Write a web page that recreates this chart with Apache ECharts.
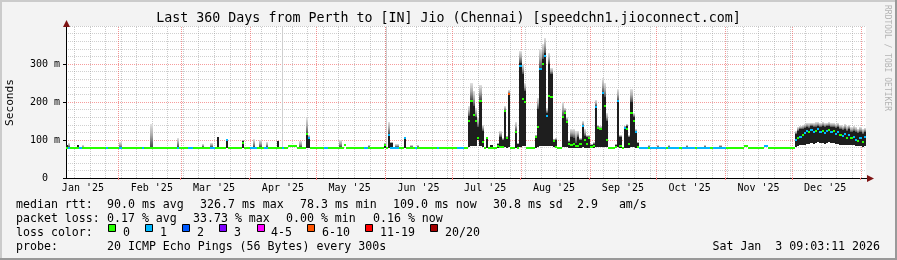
<!DOCTYPE html>
<html><head><meta charset="utf-8">
<script src="https://cdn.jsdelivr.net/npm/echarts@6/dist/echarts.min.js"></script>
<style>html,body{margin:0;padding:0;background:#f3f3f3}#c{width:897px;height:260px}</style>
</head><body><div id="c"></div>
<script>
// ---------- data (one value per day, day 0 = 360 days before the end time) ----------
const END = Date.UTC(2026, 0, 3, 9, 3, 11);
const DAY = 86400000;
const START = END - 360 * DAY;

const monthLabels = ["Jan '25","Feb '25","Mar '25","Apr '25","May '25","Jun '25","Jul '25","Aug '25","Sep '25","Oct '25","Nov '25","Dec '25"];

// median rtt (ms) per day
const median = [
 79,80,78,78,78,79,78,78,78,78, 78,78,78,78,78,78,78,78,78,78, 78,78,78,78,79,78,78,78,78,78,
 78,78,78,78,78,80,80,80,80,80, 80,80,80,80,80,80,80,80,80,80, 80,80,80,80,80,80,80,80,80,80,
 80,80,80,80,80,80,80,80,80,80, 80,80,99,80,80,80,80,80,80,93, 80,80,80,80,80,80,80,80,80,80,
 80,80,80,80,80,80,80,80,80,80, 83,83,83,83,80,80,80,80,115,105, 80,80,80,80,80,80,80,80,80,80,
 80,80,80,80,80,86,80,80,80,80, 80,80,80,80,80,80,80,80,80,80, 80,80,80,88,80,114,80,80,80,80,
 80,80,105,80,80,80,80,80,80,80, 80,80,80,80,80,80,80,80,80,80, 80,80,80,80,80,80,80,80,80,80,
 80,150,203,165,150,105,203,95,80,104, 80,80,80,80,85,82,82,176,106,222, 80,80,122,80,296,209,200,80,80,80,
 80,108,134,288,300,322,164,215,212,98, 82,80,80,160,172,148,90,88,90,84, 85,90,136,100,90,105,82,84,188,132,
 128,224,190,100,80,80,80,82,202,85, 80,132,130,90,170,151,121,82,80,80, 80,80,80,80,80,80,80,80,80,80,
 80,80,80,80,80,80,80,80,80,80, 80,80,80,80,80,80,80,80,80,80, 80,80,80,80,80,80,80,80,80,80,
 80,80,80,80,80,83,83,80,80,80, 80,80,80,80,83,83,80,80,80,80, 80,80,80,80,80,80,80,80,99,105,
 108,112,118,125,122,126,120,124,128,122, 125,118,124,127,120,123,117,121,112,110, 115,106,112,104,108,100,98,104,96,109
];

// loss class per day (index into lossLabels / lossColors)
const loss = [
 0,1,0,0,0,0,1,0,0,0, 0,0,0,0,0,0,0,0,1,0, 0,0,0,0,1,0,0,0,0,0,
 0,0,0,0,1,0,0,0,0,0, 0,0,0,0,0,0,0,0,0,0, 1,0,0,0,0,1,1,0,0,0,
 0,0,0,0,0,1,1,0,0,0, 0,0,1,0,0,0,0,0,0,0, 0,0,0,1,1,1,0,0,0,1,
 1,0,0,0,0,0,0,1,0,0, 0,0,0,0,0,0,0,0,0,1, 0,0,0,0,0,0,1,1,0,0,
 0,0,0,0,0,0,0,0,0,0, 0,0,0,0,1,1,0,0,0,0, 0,0,0,0,0,1,1,1,1,1,
 0,0,1,0,0,0,0,1,0,0, 0,0,0,0,0,0,0,1,0,0, 0,0,0,0,0,0,1,1,1,0,
 0,0,0,0,0,0,0,0,0,0, 0,0,0,0,0,0,0,0,0,5, 0,0,0,0,1,0,0,0,0,0,
 0,0,0,1,0,1,1,0,0,0, 0,0,0,0,0,0,0,0,0,0, 0,0,1,0,0,0,0,0,1,0,
 0,1,0,0,0,0,0,0,1,0, 0,1,0,0,0,0,1,0,1,1, 1,1,0,1,1,1,1,1,1,1,
 0,1,1,1,1,1,0,1,1,1, 1,1,1,0,1,1,1,1,1,1, 0,1,1,1,1,1,1,0,0,0,
 0,0,0,0,0,0,0,0,0,0, 0,0,0,0,1,1,0,0,0,0, 0,0,0,0,0,0,0,0,1,0,
 1,0,1,1,0,1,1,0,1,1, 0,1,1,0,1,0,1,1,0,1, 1,0,1,0,1,1,0,1,0,1
];

// smoke (ping spread) per day where visible: day, dense-core low, dense-core high, outer max (ms)
const smokeDay = [0,1,5,7,24,38,50,61,65,68,72,79,84,87,90,95,97,105,108,109,123,136,143,144,145,146,148,149,152,155,158,
 181,182,183,184,185,186,187,189,191,194,195,196,197,198,199,202,203,204,205,206,211,212,213,214,215,216,217,218,219,220,
 223,224,225,226,227,228,229,230,231,232,233,234,235,236,237,238,239,240,241,242,243,247,248,249,251,252,253,254,255,256,257,
 262,266,271,279,287,294,
 328,329,330,331,332,333,334,335,336,337,338,339,340,341,342,343,344,345,346,347,348,349,350,351,352,353,354,355,356,357,358,359];
const smokeLo = [78,79,78,78,78,80,80,80,80,80,80,80,80,80,80,80,80,80,80,80,80,80,80,80,80,80,80,80,80,80,80,
 82,85,85,85,99,85,82,80,80,80,80,80,82,80,82,80,80,82,85,85,80,82,85,85,85,85,85,85,82,80,
 82,82,82,80,80,80,80,80,80,82,80,80,80,80,80,82,82,82,82,82,82,80,82,80,80,80,80,82,82,80,80,
 80,80,80,80,80,80,
 82,84,86,88,88,90,90,92,90,92,94,92,92,90,92,94,92,92,90,90,88,88,88,86,88,86,86,84,84,84,82,84];
const smokeHi = [86,82,86,79,80,82,81,81,81,107,100,97,81,81,81,97,81,81,117,106,81,81,90,81,117,92,81,81,107,81,81,
 164,206,190,160,134,206,125,106,86,90,108,100,177,107,221,123,90,303,273,230,110,182,290,313,330,170,300,273,99,100,
 164,173,151,95,108,105,92,108,100,138,110,107,108,86,90,190,134,130,225,212,151,88,203,108,134,138,108,199,160,121,92,
 81,81,81,81,81,81,
 117,125,128,130,132,134,132,136,133,135,137,134,136,133,136,138,134,135,132,133,128,126,130,124,128,122,125,120,118,122,115,120];
const smokeMax = [88,91,87,88,94,141,104,89,91,108,102,99,102,100,94,98,400,97,159,112,99,86,92,400,147,95,89,89,108,88,88,
 190,251,230,185,160,245,140,108,88,92,125,105,190,110,232,147,92,334,300,250,112,210,340,352,369,185,330,290,102,104,
 199,185,160,100,130,130,125,125,105,150,128,112,112,90,95,205,140,138,262,250,170,90,234,112,138,142,112,234,172,128,96,
 86,88,86,87,88,86,
 125,135,138,140,142,145,144,146,145,147,148,145,147,144,146,148,146,146,143,144,140,138,142,136,140,135,137,133,130,134,128,132];

const lossLabels = ["0","1","2","3","4-5","6-10","11-19","20/20"];
const lossColors = ["#26ff00","#00b8ff","#0059ff","#7e00ff","#ff00ff","#ff5500","#ff0000","#a10000"];
const legendBoxX = [108,145,182,219,257,307,365,430];
const legendTextX = [123,160,197,234,271,322,380,445];

const titleText = "Last 360 Days from Perth to [IN] Jio (Chennai) [speedchn1.jioconnect.com]";
const statRows = [
 {y:204.5, items:[[16,"median rtt:"],[107,"90.0 ms avg"],[200,"326.7 ms max"],[300,"78.3 ms min"],[393,"109.0 ms now"],[493,"30.8 ms sd"],[577,"2.9   am/s"]]},
 {y:218.8, items:[[16,"packet loss:"],[107,"0.17 % avg"],[193,"33.73 % max"],[286,"0.00 % min"],[373,"0.16 % now"]]},
 {y:232.5, items:[[16,"loss color:"]]},
 {y:246.5, items:[[16,"probe:"],[107,"20 ICMP Echo Pings (56 Bytes) every 300s"]]}
];
const stampText = "Sat Jan  3 09:03:11 2026";

// ---------- axis positions (dates -> day offsets) ----------
const dayOf = (y, m, d) => (Date.UTC(y, m, d) - START) / DAY;
const monthLabelDays = monthLabels.map((_, i) => dayOf(2025, i, 16));
const monthLineDays = [];
for (let m = 1; m <= 12; m++) monthLineDays.push(dayOf(2025, m, 1));
const weekLineDays = [];
for (let d = dayOf(2025, 0, 12); d < 360; d += 7) weekLineDays.push(d);

const FONT = '"DejaVu Sans Mono", monospace';
const chart = echarts.init(document.getElementById('c'), null, {renderer: 'canvas', width: 897, height: 260});

function vLineSeries(days, color) {
  return {
    type: 'custom', z: 1, silent: true, clip: true,
    data: days.map(d => [d]),
    renderItem: (p, api) => {
      const x = Math.round(api.coord([api.value(0), 0])[0]) + 0.5;
      const y0 = api.coord([0, 0])[1], y1 = api.coord([0, 400])[1];
      return {type: 'line', shape: {x1: x, y1: y0, x2: x, y2: y1},
        style: {stroke: color, lineWidth: 1, lineDash: [1, 1]}};
    }
  };
}

const smokeGrad = new echarts.graphic.LinearGradient(0, 0, 0, 1, [
  {offset: 0, color: '#e2e2e2'}, {offset: 0.5, color: '#a8a8a8'}, {offset: 1, color: '#4a4a4a'}]);
const offScaleFill = '#cfcfcf';

const option = {
  animation: false,
  backgroundColor: '#f3f3f3',
  grid: {left: 66, top: 26, width: 800, height: 152, show: true, backgroundColor: '#ffffff', borderWidth: 0},
  xAxis: {
    type: 'value', min: 0, max: 360,
    axisLine: {show: true, onZero: false, lineStyle: {color: '#000', width: 1}},
    axisTick: {show: true, customValues: monthLineDays, length: 2, lineStyle: {color: '#f08080'}},
    axisLabel: {
      customValues: monthLabelDays, margin: 5, color: '#000', fontFamily: FONT, fontSize: 10,
      formatter: v => { const i = monthLabelDays.findIndex(x => Math.abs(x - v) < 1e-6); return i >= 0 ? monthLabels[i] : ''; }
    },
    splitLine: {show: false}
  },
  yAxis: {
    type: 'value', min: 0, max: 400, interval: 100,
    axisLine: {show: true, lineStyle: {color: '#000', width: 1}},
    axisTick: {show: true, length: 3, lineStyle: {color: '#000'}},
    axisLabel: {color: '#000', fontFamily: FONT, fontSize: 10, margin: 6, showMaxLabel: false,
      formatter: v => v === 0 ? '0\u00a0\u00a0' : (v >= 400 ? '' : v + ' m')},
    splitLine: {show: true, lineStyle: {color: ['rgba(0,0,0,0)', 'rgba(240,90,90,0.6)', 'rgba(240,90,90,0.6)', 'rgba(240,90,90,0.6)', 'rgba(150,150,150,0.5)'], type: [1, 1]}},
    minorTick: {show: false, splitNumber: 5},
    minorSplitLine: {show: true, lineStyle: {color: 'rgba(150,150,150,0.45)', type: [1, 1]}}
  },
  series: [
    vLineSeries(weekLineDays, 'rgba(150,150,150,0.5)'),
    vLineSeries(monthLineDays, 'rgba(240,90,90,0.65)'),
    {
      type: 'custom', z: 3, silent: true, clip: true,
      data: smokeDay.map((d, i) => [d, smokeLo[i], smokeHi[i], smokeMax[i]]),
      renderItem: (p, api) => {
        const d = api.value(0);
        const xa = Math.round(api.coord([d, 0])[0]), xb = Math.round(api.coord([d + 1, 0])[0]);
        const yLo = Math.round(api.coord([d, api.value(1)])[1]);
        const yHi = Math.round(api.coord([d, api.value(2)])[1]);
        const off = api.value(3) >= 400;
        const yMx = Math.round(api.coord([d, Math.min(api.value(3), 400)])[1]);
        return {type: 'group', children: [
          {type: 'rect', shape: {x: xa, y: yMx, width: off ? 1 : xb - xa, height: Math.max(yHi - yMx, 0)}, style: {fill: off ? offScaleFill : smokeGrad}},
          {type: 'rect', shape: {x: xa, y: yHi, width: xb - xa, height: Math.max(yLo - yHi, 0)}, style: {fill: '#1e1e1e'}}
        ]};
      }
    },
    {
      type: 'custom', z: 4, silent: true, clip: true,
      data: median.map((v, i) => [i, v, loss[i]]),
      renderItem: (p, api) => {
        const d = api.value(0);
        const xa = Math.round(api.coord([d, 0])[0]), xb = Math.round(api.coord([d + 1, 0])[0]);
        const y = Math.round(api.coord([d, api.value(1)])[1]);
        return {type: 'rect', shape: {x: xa, y: y - 1, width: xb - xa, height: 2}, style: {fill: lossColors[api.value(2)]}};
      }
    }
  ],
  graphic: [
    // frame
    {type: 'rect', shape: {x: 0, y: 0, width: 897, height: 2}, style: {fill: '#cbcbcb'}, silent: true},
    {type: 'rect', shape: {x: 0, y: 0, width: 2, height: 260}, style: {fill: '#cbcbcb'}, silent: true},
    {type: 'rect', shape: {x: 895, y: 0, width: 2, height: 260}, style: {fill: '#999999'}, silent: true},
    {type: 'rect', shape: {x: 0, y: 258, width: 897, height: 2}, style: {fill: '#999999'}, silent: true},
    // axis arrows
    {type: 'polygon', shape: {points: [[63, 27], [66.5, 20], [70, 27]]}, style: {fill: '#7f1414'}, silent: true, z: 10},
    {type: 'polygon', shape: {points: [[867, 175], [874, 178.5], [867, 182]]}, style: {fill: '#7f1414'}, silent: true, z: 10},
    {type: 'line', shape: {x1: 866, y1: 178.5, x2: 868, y2: 178.5}, style: {stroke: '#000', lineWidth: 1}, silent: true},
    // texts
    {type: 'text', x: 448.5, y: 19, style: {text: titleText, font: '13.3px ' + FONT, fill: '#000', textAlign: 'center', textVerticalAlign: 'middle'}, silent: true},
    {type: 'text', x: 10.5, y: 102.5, rotation: Math.PI / 2, style: {text: 'Seconds', font: '11.2px ' + FONT, fill: '#000', textAlign: 'center', textVerticalAlign: 'middle'}, silent: true},
    {type: 'text', x: 887, y: 5, rotation: -Math.PI / 2, style: {text: 'RRDTOOL / TOBI OETIKER', font: '8px ' + FONT, fill: '#b4b4b4', textAlign: 'left', textVerticalAlign: 'middle'}, silent: true},
    {type: 'text', x: 880, y: 246.5, style: {text: stampText, font: '11.6px ' + FONT, fill: '#000', textAlign: 'right', textVerticalAlign: 'middle'}, silent: true}
  ]
};

statRows.forEach(r => r.items.forEach(it => option.graphic.push({
  type: 'text', x: it[0], y: r.y, silent: true,
  style: {text: it[1], font: '11.6px ' + FONT, fill: '#000', textAlign: 'left', textVerticalAlign: 'middle'}
})));
lossLabels.forEach((lab, i) => {
  option.graphic.push({type: 'rect', silent: true, shape: {x: legendBoxX[i] + 0.5, y: 224.5, width: 7, height: 7},
    style: {fill: lossColors[i], stroke: '#000', lineWidth: 1}});
  option.graphic.push({type: 'text', x: legendTextX[i], y: 232.5, silent: true,
    style: {text: lab, font: '11.6px ' + FONT, fill: '#000', textAlign: 'left', textVerticalAlign: 'middle'}});
});

chart.setOption(option);
</script></body></html>
